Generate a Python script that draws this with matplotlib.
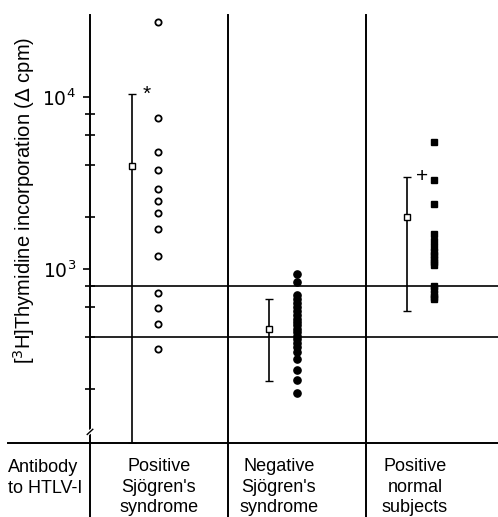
import matplotlib
matplotlib.use("Agg")
import matplotlib.pyplot as plt

plt.rcParams['font.family'] = ['Liberation Sans', 'DejaVu Sans']

# values (delta cpm)
pos_sjogren = [27400, 7520, 4770, 3760, 2920, 2475, 2125, 1710, 1195, 722, 591, 479, 341]
neg_sjogren = [940, 840, 710, 670, 630, 600, 570, 540, 510, 490, 470, 450, 430, 410,
               390, 370, 350, 330, 300, 260, 225, 190]
pos_normal = [5500, 3300, 2380, 1600, 1450, 1350, 1250, 1200, 1150, 1100, 1060,
              800, 760, 720, 690, 670]

# mean and top of mean + SD bar for each group
group_means = [3990, 446, 2000]
group_sd = [6370, 223, 1430]
group_marks = ["*", "", "+"]

group_labels = ["Positive\nSjögren's\nsyndrome", "Negative\nSjögren's\nsyndrome",
                "Positive\nnormal\nsubjects"]
row_label = "Antibody\nto HTLV-I"
cut_off_lines = [800, 400]

W, H = 498, 517
fig = plt.figure(figsize=(W / 100, H / 100), dpi=100)
ax = fig.add_axes([90 / W, (H - 443) / H, 408 / W, (443 - 15) / H])
ax.set_yscale("log")
y_bottom, y_top = 97.3, 29990
ax.set_ylim(y_bottom, y_top)
ax.set_xlim(0, 408 / 138)

for s in ax.spines.values():
    s.set_visible(False)
ax.set_xticks([])

ax.set_yticks([1000, 10000])
ax.set_yticklabels([r"$10^3$", r"$10^4$"], fontsize=13.5)
ax.set_yticks([200, 400, 600, 800, 2000, 4000, 6000, 8000], minor=True)
ax.set_yticklabels([], minor=True)
ax.tick_params(axis="y", which="major", length=5, width=1.2, pad=5, direction="out")
ax.tick_params(axis="y", which="minor", length=7, width=1.2, direction="inout")

# frame lines of the table
xt = ax.get_xaxis_transform()
for x in [0, 1, 2]:
    ax.plot([x, x], [-0.2, 1], color="black", lw=1.4, transform=xt, clip_on=False)
ax.plot([-82 / 138, 408 / 138], [0, 0], color="black", lw=1.4, transform=xt, clip_on=False)

# axis break
ax.plot([-0.035, 0.035], [0.018, 0.034], color="white", lw=3, transform=xt, clip_on=False)
ax.plot([-0.02, 0.02], [0.02, 0.032], color="black", lw=1.0, transform=xt, clip_on=False)

for v in cut_off_lines:
    ax.axhline(v, color="black", lw=1.2)

# individual values
ax.plot([0.49] * len(pos_sjogren), pos_sjogren, "o", mfc="white", mec="black",
        mew=1.3, ms=4.5, clip_on=False)
ax.plot([1.5] * len(neg_sjogren), neg_sjogren, "o", color="black", ms=5.2)
ax.plot([2.49] * len(pos_normal), pos_normal, "s", color="black", ms=4.5)

# mean +/- SD
bar_x = [0.304, 1.297, 2.297]
for i in range(3):
    m = group_means[i]
    low = max(m - group_sd[i], y_bottom)
    ax.errorbar([bar_x[i]], [m], yerr=[[m - low], [group_sd[i]]], fmt="s",
                mfc="white", mec="black", ms=4, mew=1, ecolor="black",
                elinewidth=1.2, capsize=3, capthick=1.2)
    if group_marks[i]:
        ax.text(bar_x[i] + 0.11, m + group_sd[i], group_marks[i], fontsize=15,
                ha="center", va="center")

fig.text(24 / W, 1 - 200 / H, "[$^3$H]Thymidine incorporation ($\\Delta$ cpm)",
         rotation=90, ha="center", va="center", fontsize=14.5)

fig.text(8 / W, 1 - 478 / H, row_label, ha="left", va="center", fontsize=13,
         linespacing=1.3)
label_x = [159, 279, 415]
for i in range(3):
    fig.text(label_x[i] / W, 1 - 487 / H, group_labels[i], ha="center", va="center",
             fontsize=13, linespacing=1.3)

fig.savefig("out.png", dpi=100)
